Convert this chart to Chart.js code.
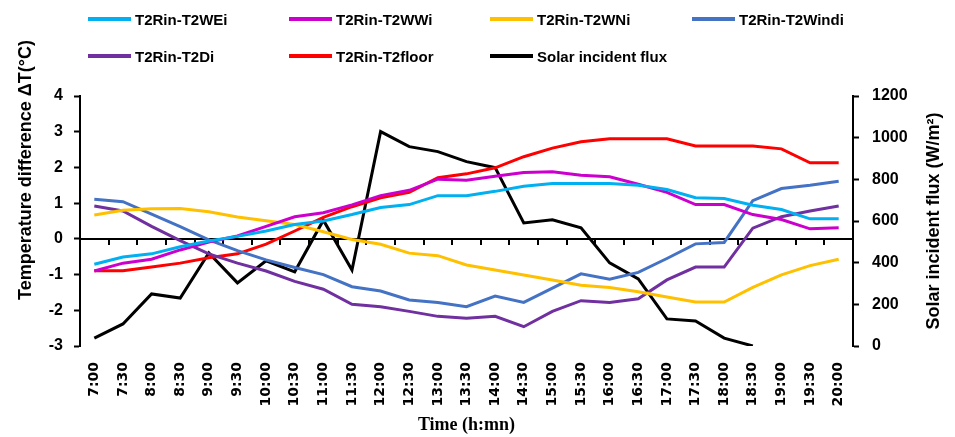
<!DOCTYPE html>
<html>
<head>
<meta charset="utf-8">
<script src="https://cdn.jsdelivr.net/npm/chart.js@4.4.0/dist/chart.umd.min.js"></script>
<style>
  html, body { margin: 0; padding: 0; background: #fff; }
  #wrap { position: relative; width: 955px; height: 437px; }
  #legend { position: absolute; left: 0; top: 0; width: 955px; height: 80px;
            font: bold 15px "Liberation Sans", Arial, sans-serif; color: #000; }
  .item { position: absolute; display: flex; align-items: center; white-space: nowrap; }
  .sw { width: 43px; height: 4px; margin-right: 4px; }
</style>
</head>
<body>
<div id="wrap">
  <canvas id="chart" width="955" height="437"></canvas>
  <div id="legend"></div>
</div>
<script>
const times = ["7:00","7:30","8:00","8:30","9:00","9:30","10:00","10:30","11:00","11:30",
  "12:00","12:30","13:00","13:30","14:00","14:30","15:00","15:30","16:00","16:30",
  "17:00","17:30","18:00","18:30","19:00","19:30","20:00"];

const t2wei = [-0.71,-0.51,-0.42,-0.22,-0.06,0.07,0.22,0.4,0.5,0.68,0.88,0.96,1.21,1.21,
  1.33,1.47,1.55,1.55,1.55,1.5,1.38,1.15,1.13,0.94,0.82,0.56,0.56];
const t2wwi = [-0.9,-0.68,-0.57,-0.31,-0.09,0.08,0.35,0.62,0.73,0.95,1.21,1.36,1.67,1.64,
  1.75,1.86,1.88,1.78,1.74,1.53,1.3,0.96,0.96,0.68,0.54,0.28,0.31];
const t2wni = [0.67,0.8,0.84,0.85,0.76,0.61,0.51,0.4,0.2,-0.02,-0.15,-0.4,-0.47,-0.73,
  -0.87,-1.01,-1.15,-1.3,-1.36,-1.48,-1.63,-1.77,-1.77,-1.36,-1.01,-0.75,-0.57];
const t2windi = [1.11,1.04,0.69,0.34,-0.03,-0.33,-0.59,-0.8,-1.0,-1.34,-1.46,-1.71,-1.78,-1.9,
  -1.6,-1.78,-1.38,-0.98,-1.13,-0.94,-0.55,-0.14,-0.1,1.07,1.41,1.5,1.61];
const t2di = [0.92,0.78,0.35,-0.05,-0.42,-0.68,-0.9,-1.19,-1.41,-1.83,-1.9,-2.03,-2.17,-2.22,
  -2.17,-2.46,-2.03,-1.73,-1.78,-1.68,-1.15,-0.79,-0.79,0.3,0.62,0.78,0.92];
const t2floor = [-0.89,-0.89,-0.79,-0.68,-0.53,-0.42,-0.15,0.22,0.6,0.9,1.15,1.3,1.71,1.82,
  1.99,2.3,2.54,2.72,2.8,2.8,2.8,2.6,2.6,2.6,2.52,2.13,2.13];
const solarFlux = [38,106,250,230,447,303,409,356,604,365,1029,957,933,885,856,591,606,567,
  399,322,130,120,38,0,null,null,null];

const series = [
  { label: "T2Rin-T2WEi", data: t2wei, color: "#00B0F0", axis: "y" },
  { label: "T2Rin-T2WWi", data: t2wwi, color: "#CC00CC", axis: "y" },
  { label: "T2Rin-T2WNi", data: t2wni, color: "#FFC000", axis: "y" },
  { label: "T2Rin-T2Windi", data: t2windi, color: "#4472C4", axis: "y" },
  { label: "T2Rin-T2Di", data: t2di, color: "#7030A0", axis: "y" },
  { label: "T2Rin-T2floor", data: t2floor, color: "#FF0000", axis: "y" },
  { label: "Solar incident flux", data: solarFlux, color: "#000000", axis: "y1" }
];

const tickFont = { family: "'Liberation Sans', Arial, sans-serif", weight: "bold", size: 16 };
const titleFont = "bold 18px 'Liberation Sans', Arial, sans-serif";

// zero line with category tick marks + rotated axis titles
const axisDecor = {
  id: "axisDecor",
  beforeDatasetsDraw(chart) {
    const ctx = chart.ctx, xs = chart.scales.x, ys = chart.scales.y;
    const y0 = Math.round(ys.getPixelForValue(0));
    const step = xs.width / times.length;
    ctx.save();
    ctx.strokeStyle = "#000";
    ctx.lineWidth = 2;
    ctx.beginPath();
    ctx.moveTo(xs.left, y0);
    ctx.lineTo(xs.right, y0);
    for (let k = 1; k < times.length; k++) {
      const x = Math.round(xs.left + k * step);
      ctx.moveTo(x, y0);
      ctx.lineTo(x, y0 + 6);
    }
    ctx.stroke();
    ctx.restore();
  },
  afterDraw(chart) {
    const ctx = chart.ctx;
    ctx.save();
    ctx.fillStyle = "#000";
    ctx.font = titleFont;
    ctx.textAlign = "center";
    ctx.textBaseline = "middle";
    ctx.translate(26, 170);
    ctx.rotate(-Math.PI / 2);
    ctx.fillText("Temperature difference ΔT(°C)", 0, 0);
    ctx.restore();
    ctx.save();
    ctx.fillStyle = "#000";
    ctx.font = titleFont;
    ctx.textAlign = "center";
    ctx.textBaseline = "middle";
    ctx.translate(934, 221);
    ctx.rotate(-Math.PI / 2);
    ctx.fillText("Solar incident flux (W/m²)", 0, 0);
    ctx.restore();
  }
};

new Chart(document.getElementById("chart"), {
  type: "line",
  data: {
    labels: times,
    datasets: series.map(s => ({
      label: s.label,
      data: s.data,
      borderColor: s.color,
      backgroundColor: s.color,
      borderWidth: 3,
      pointRadius: 0,
      tension: 0,
      yAxisID: s.axis
    }))
  },
  options: {
    responsive: false,
    animation: false,
    layout: { padding: { top: 96, left: 0, right: 0, bottom: 0 } },
    plugins: { legend: { display: false }, tooltip: { enabled: false } },
    scales: {
      x: {
        offset: true,
        grid: { display: false },
        border: { display: false },
        ticks: {
          autoSkip: false, minRotation: 90, maxRotation: 90, padding: 8, color: "#000",
          font: { family: "'DejaVu Sans', Verdana, sans-serif", weight: "bold", size: 14 }
        },
        title: {
          display: true, text: "Time (h:mn)", color: "#000",
          font: { family: "'Liberation Serif', 'Times New Roman', serif", weight: "bold", size: 18 },
          padding: { top: 0, bottom: 1 }
        },
        afterFit: s => { s.height = 91; }
      },
      y: {
        position: "left", min: -3, max: 4,
        ticks: { stepSize: 1, padding: 11, color: "#000", font: tickFont },
        grid: { drawOnChartArea: false, tickLength: 6, tickColor: "#000", tickWidth: 2 },
        border: { color: "#000", width: 2 },
        afterFit: s => { s.width = 80; }
      },
      y1: {
        position: "right", min: 0, max: 1200,
        ticks: { stepSize: 200, padding: 13, color: "#000", font: tickFont, callback: v => String(v) },
        grid: { drawOnChartArea: false, tickLength: 6, tickColor: "#000", tickWidth: 2 },
        border: { color: "#000", width: 2 },
        afterFit: s => { s.width = 102; }
      }
    }
  },
  plugins: [axisDecor]
});

// legend laid out as in the original: 4 columns, 2 rows
const legendCols = [88, 289, 490, 692];
const legendRows = [19, 56];
const legendEl = document.getElementById("legend");
series.forEach((s, i) => {
  const row = i < 4 ? 0 : 1;
  const col = i < 4 ? i : i - 4;
  const item = document.createElement("div");
  item.className = "item";
  item.style.left = legendCols[col] + "px";
  item.style.top = (legendRows[row] - 9) + "px";
  item.style.height = "18px";
  const sw = document.createElement("span");
  sw.className = "sw";
  sw.style.background = s.color;
  const tx = document.createElement("span");
  tx.textContent = s.label;
  item.appendChild(sw);
  item.appendChild(tx);
  legendEl.appendChild(item);
});
</script>
</body>
</html>
